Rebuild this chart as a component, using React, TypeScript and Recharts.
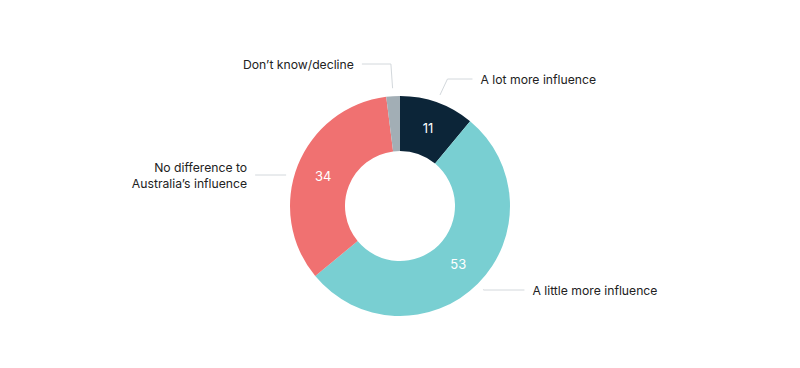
import React from 'react';
import { PieChart, Pie, Cell } from 'recharts';

const categories = ['A lot more influence', 'A little more influence', 'No difference to Australia\u2019s influence', 'Don\u2019t know/decline'];
const values = [11, 53, 34, 2];
const colors = ['#0c2538', '#79cfd2', '#f07171', '#a2aeb5'];

// outer label placement, relative to pie centre
const labelLines: string[][] = [
  ['A lot more influence'],
  ['A little more influence'],
  ['No difference to', 'Australia\u2019s influence'],
  ['Don\u2019t know/decline'],
];
const labelY = [-127, 84, -31, -142];
const labelSide = [1, 1, -1, -1];
const lineLen = [25, 41, 31, 29];
const elbowSlope = [0.47, 0, 0, 0.07];
const fromMid = [true, true, false, true];

const data = categories.map((name, i) => ({ name, value: values[i] }));

const RAD = Math.PI / 180;

const renderLabel = (props: any) => {
  const { cx, cy, midAngle, innerRadius, outerRadius, index, value } = props;
  const cos = Math.cos(-midAngle * RAD);
  const sin = Math.sin(-midAngle * RAD);
  const midR = (innerRadius + outerRadius) / 2;
  const lr = outerRadius + 8;
  const ly = cy + labelY[index];
  const side = labelSide[index];
  let sx: number, sy: number;
  if (fromMid[index]) {
    sx = cx + lr * cos;
    sy = cy + lr * sin;
  } else {
    const dy = labelY[index];
    sx = cx + side * Math.sqrt(Math.max(lr * lr - dy * dy, 0));
    sy = ly;
  }
  const ex = sx + side * Math.abs(sy - ly) * elbowSlope[index];
  const endX = ex + side * lineLen[index];
  const textX = endX + side * 8;
  const lines = labelLines[index];
  return (
    <g>
      {value >= 5 && (
        <text x={cx + midR * cos} y={cy + midR * sin} fill="#fff" fontSize={13} textAnchor="middle" dominantBaseline="central" fontFamily="Inter, sans-serif">
          {value}
        </text>
      )}
      <polyline points={`${sx},${sy} ${ex},${ly} ${endX},${ly}`} fill="none" stroke="#d3d8dc" strokeWidth={1} />
      <text x={textX} y={ly - (lines.length - 1) * 8} fill="#222" fontSize={12.2} textAnchor={side > 0 ? 'start' : 'end'} dominantBaseline="central" fontFamily="Inter, sans-serif">
        {lines.map((l, i) => (
          <tspan key={i} x={textX} dy={i === 0 ? 0 : 16}>{l}</tspan>
        ))}
      </text>
    </g>
  );
};

export default function App() {
  return (
    <div style={{ position: 'absolute', left: 0, top: 0, background: '#fff' }}>
      <PieChart width={800} height={368} margin={{ top: 0, right: 0, bottom: 0, left: 0 }}>
        <Pie
          data={data}
          dataKey="value"
          nameKey="name"
          cx={400}
          cy={206}
          innerRadius={55}
          outerRadius={110}
          startAngle={90}
          endAngle={-270}
          stroke="none"
          label={renderLabel}
          labelLine={false}
          isAnimationActive={false}
        >
          {data.map((d, i) => (
            <Cell key={d.name} fill={colors[i]} />
          ))}
        </Pie>
      </PieChart>
    </div>
  );
}
